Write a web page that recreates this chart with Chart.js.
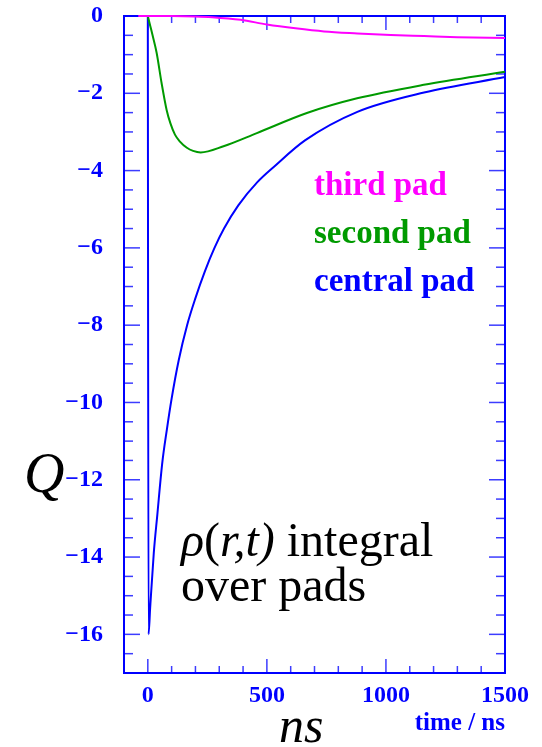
<!DOCTYPE html>
<html>
<head>
<meta charset="utf-8">
<script src="https://cdn.jsdelivr.net/npm/chart.js@4.4.1/dist/chart.umd.min.js"></script>
<style>
  html, body { margin: 0; padding: 0; background: #ffffff; }
  canvas { display: block; }
</style>
</head>
<body>
<canvas id="chart" width="542" height="747"></canvas>
<script>
// time in ns, Q in arbitrary units
const centralT = [0, 3, 10, 25, 40, 60, 80, 100, 130, 165, 200, 240, 280, 320, 380, 460, 530, 660, 880, 1160, 1500];
const centralQ = [0, -16.0, -15.3, -13.9, -12.9, -11.6, -10.7, -9.9, -8.9, -8.0, -7.3, -6.6, -6.0, -5.5, -4.9, -4.3, -3.9, -3.22, -2.48, -1.98, -1.58];

const secondT = [0, 10, 20, 37, 58, 79, 95, 114, 135, 164, 190, 222, 318, 458, 668, 879, 1159, 1500];
const secondQ = [0, -0.25, -0.5, -0.95, -1.74, -2.43, -2.78, -3.07, -3.25, -3.41, -3.49, -3.53, -3.37, -3.03, -2.51, -2.13, -1.78, -1.44];

const thirdT = [-40, 0, 100, 200, 270, 390, 500, 620, 740, 880, 1020, 1160, 1300, 1500];
const thirdQ = [0, 0, 0, -0.01, -0.03, -0.1, -0.22, -0.32, -0.4, -0.45, -0.49, -0.52, -0.55, -0.57];

const seriesNames = ["third pad", "second pad", "central pad"];
const seriesColors = ["#ff00ff", "#009a00", "#0000ff"];

const xMin = -100, xMax = 1500, xStep = 100, xMajor = 500;
const yMin = -17, yMax = 0, yStep = 0.5, yMajor = 2;

const pts = (ts, qs) => ts.map((t, i) => ({ x: t, y: qs[i] }));
const isMult = (v, m) => Math.abs(v / m - Math.round(v / m)) < 1e-6;
const fmt = (v) => (v < 0 ? "\u2212" + Math.abs(v) : String(v));

const SERIF = "'Liberation Serif', 'DejaVu Serif', serif";

// frame + inward ticks on all four sides, drawn before the curves
const frameTicks = {
  id: "frameTicks",
  beforeDatasetsDraw(chart) {
    const { ctx, chartArea: a, scales } = chart;
    const x = scales.x, y = scales.y;
    ctx.save();
    ctx.strokeStyle = "#3c3cff";
    ctx.lineWidth = 1.5;
    const seg = (x1, y1, x2, y2) => {
      ctx.beginPath();
      ctx.moveTo(x1, y1);
      ctx.lineTo(x2, y2);
      ctx.stroke();
    };
    x.ticks.forEach((t) => {
      const px = x.getPixelForValue(t.value);
      if (px <= a.left + 1 || px >= a.right - 1) return;
      const len = isMult(t.value, xMajor) ? 14 : 7;
      seg(px, a.bottom, px, a.bottom - len);
      seg(px, a.top, px, a.top + len);
    });
    y.ticks.forEach((t) => {
      const py = y.getPixelForValue(t.value);
      if (py <= a.top + 1 || py >= a.bottom - 1) return;
      const len = isMult(t.value, yMajor) ? 16 : 9;
      seg(a.left, py, a.left + len, py);
      seg(a.right, py, a.right - len, py);
    });
    ctx.strokeStyle = "#0000ff";
    ctx.lineWidth = 2;
    ctx.strokeRect(a.left, a.top, a.right - a.left, a.bottom - a.top);
    ctx.restore();
  },
};

// free text on the canvas: legend words, axis words, note
const labels = {
  id: "labels",
  afterDraw(chart) {
    const { ctx } = chart;
    ctx.save();
    ctx.textBaseline = "alphabetic";
    ctx.textAlign = "left";

    ctx.font = "bold 33px " + SERIF;
    const legendY = [195, 243, 291];
    seriesNames.forEach((name, i) => {
      ctx.fillStyle = seriesColors[i];
      ctx.fillText(name, 314, legendY[i]);
    });

    ctx.fillStyle = "#0000ff";
    ctx.font = "bold 25px " + SERIF;
    ctx.textAlign = "right";
    ctx.fillText("time / ns", 505, 730);

    ctx.textAlign = "left";
    ctx.fillStyle = "#000000";
    ctx.font = "italic 56px " + SERIF;
    ctx.fillText("Q", 24, 492);
    ctx.font = "italic 50px " + SERIF;
    ctx.fillText("ns", 279, 742);

    // rho(r,t) integral / over pads
    const parts = [
      ["\u03c1", "italic"],
      ["(", ""],
      ["r,t)", "italic"],
      [" integral", ""],
    ];
    let cx = 181;
    parts.forEach(([s, style]) => {
      ctx.font = (style ? style + " " : "") + "48px " + SERIF;
      ctx.fillText(s, cx, 556);
      cx += ctx.measureText(s).width;
    });
    ctx.font = "48px " + SERIF;
    ctx.fillText("over pads", 181, 601);
    ctx.restore();
  },
};

const lineSet = (label, data, color, order) => ({
  label,
  data,
  borderColor: color,
  backgroundColor: color,
  borderWidth: 2,
  pointRadius: 0,
  cubicInterpolationMode: "monotone",
  clip: false,
  order,
});

new Chart(document.getElementById("chart"), {
  type: "line",
  data: {
    datasets: [
      lineSet(seriesNames[0], pts(thirdT, thirdQ), seriesColors[0], 0),
      lineSet(seriesNames[1], pts(secondT, secondQ), seriesColors[1], 1),
      lineSet(seriesNames[2], pts(centralT, centralQ), seriesColors[2], 2),
    ],
  },
  options: {
    responsive: false,
    animation: false,
    events: [],
    layout: { padding: { top: 16, right: 37, left: 0, bottom: 0 } },
    plugins: {
      legend: { display: false },
      tooltip: { enabled: false },
    },
    scales: {
      x: {
        type: "linear",
        min: xMin,
        max: xMax,
        grid: { display: false, drawTicks: false },
        border: { display: false },
        afterFit: (s) => {
          s.height = 74;
          s.paddingLeft = 0;
          s.paddingRight = 0;
        },
        ticks: {
          stepSize: xStep,
          autoSkip: false,
          maxRotation: 0,
          padding: 8,
          color: "#0000ff",
          font: { family: SERIF, size: 24, weight: "bold" },
          callback: (v) => (isMult(v, xMajor) && v >= 0 ? String(v) : ""),
        },
      },
      y: {
        type: "linear",
        min: yMin,
        max: yMax,
        grid: { display: false, drawTicks: false },
        border: { display: false },
        afterFit: (s) => {
          s.width = 124;
          s.paddingTop = 0;
          s.paddingBottom = 0;
        },
        ticks: {
          stepSize: yStep,
          autoSkip: false,
          padding: 21,
          color: "#0000ff",
          font: { family: SERIF, size: 24, weight: "bold" },
          callback: (v) => (isMult(v, yMajor) ? fmt(v) : ""),
        },
      },
    },
  },
  plugins: [frameTicks, labels],
});
</script>
</body>
</html>
